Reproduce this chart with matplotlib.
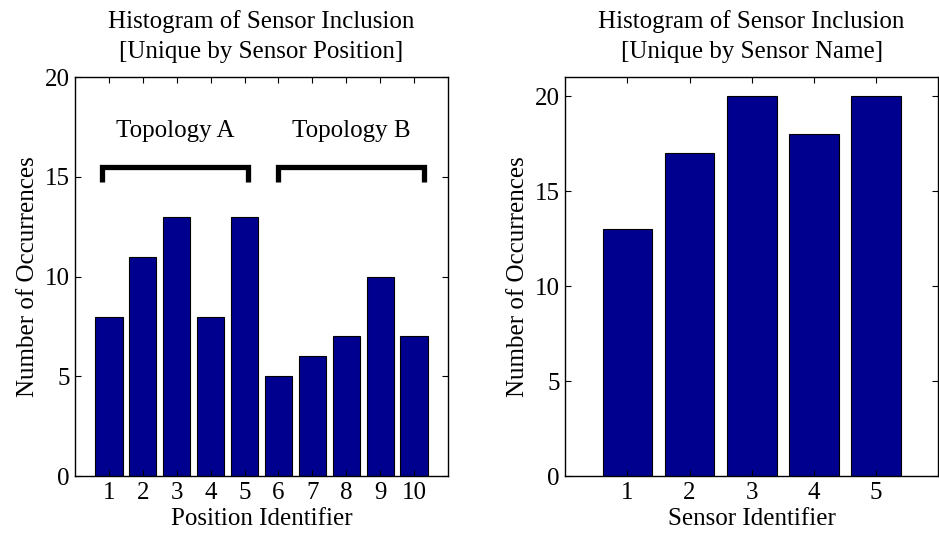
import matplotlib
matplotlib.use("Agg")
import matplotlib.pyplot as plt

positions = [1, 2, 3, 4, 5, 6, 7, 8, 9, 10]
position_counts = [8, 11, 13, 8, 13, 5, 6, 7, 10, 7]
sensors = [1, 2, 3, 4, 5]
sensor_counts = [13, 17, 20, 18, 20]
topology_labels = ["Topology A", "Topology B"]

plt.rcParams['font.family'] = ['Liberation Serif', 'DejaVu Serif']
FS = 18
plt.rcParams['font.size'] = FS

fig = plt.figure(figsize=(9.39, 5.35), dpi=100)
ax1 = fig.add_axes([0.080, 0.110, 0.397, 0.746])
ax2 = fig.add_axes([0.602, 0.110, 0.397, 0.746])

bar_color = '#00008F'

for ax in (ax1, ax2):
    ax.tick_params(direction='in', top=True, right=True, length=4, width=0.8,
                   labelsize=FS, pad=4)
    for s in ax.spines.values():
        s.set_linewidth(1.0)

ax1.bar(positions, position_counts, width=0.8, color=bar_color, edgecolor='black', linewidth=0.8)
ax1.set_xlim(0, 11)
ax1.set_ylim(0, 20)
ax1.set_xticks(positions)
ax1.set_yticks([0, 5, 10, 15, 20])
ax1.set_xlabel("Position Identifier", fontsize=FS, labelpad=3)
ax1.set_ylabel("Number of Occurrences", fontsize=FS, labelpad=4)
ax1.set_title("Histogram of Sensor Inclusion\n[Unique by Sensor Position]", fontsize=FS, pad=14, linespacing=1.45)

# brackets
for (x0, x1), lab in zip([(0.8, 5.1), (6.0, 10.3)], topology_labels):
    ax1.plot([x0, x0, x1, x1], [14.75, 15.5, 15.5, 14.75], color='black', lw=3.8,
             solid_joinstyle='miter', solid_capstyle='butt')
    ax1.text((x0 + x1) / 2, 17.3, lab, ha='center', va='center', fontsize=FS)

ax2.bar(sensors, sensor_counts, width=0.8, color=bar_color, edgecolor='black', linewidth=0.8)
ax2.set_xlim(0, 6)
ax2.set_ylim(0, 21)
ax2.set_xticks(sensors)
ax2.set_yticks([0, 5, 10, 15, 20])
ax2.set_xlabel("Sensor Identifier", fontsize=FS, labelpad=3)
ax2.set_ylabel("Number of Occurrences", fontsize=FS, labelpad=4)
ax2.set_title("Histogram of Sensor Inclusion\n[Unique by Sensor Name]", fontsize=FS, pad=14, linespacing=1.45)

fig.savefig("out.png", dpi=100)
